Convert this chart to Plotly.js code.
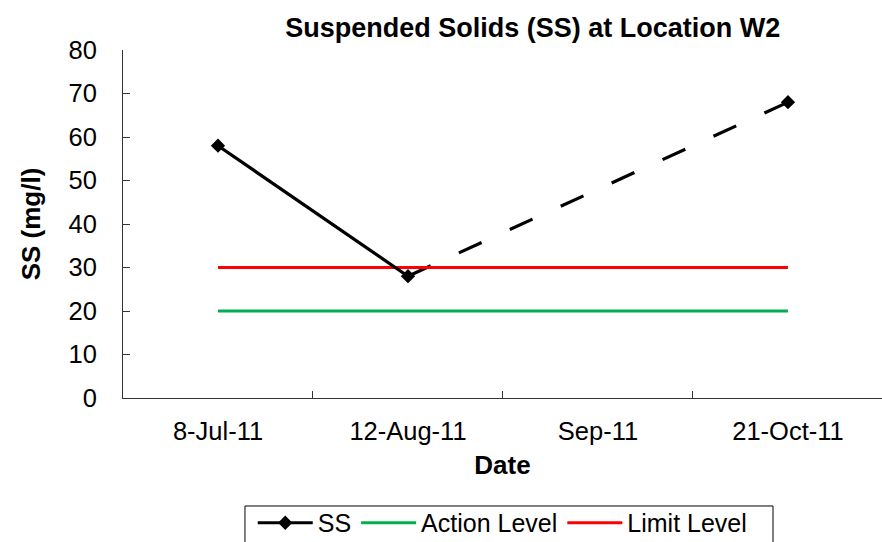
<!DOCTYPE html>
<html>
<head>
<meta charset="utf-8">
<script src="https://cdn.plot.ly/plotly-3.0.1.min.js"></script>
<style>html,body{margin:0;padding:0;background:#fff;}#chart{width:882px;height:542px;}</style>
</head>
<body>
<div id="chart"></div>
<script>
const dates = ["8-Jul-11", "12-Aug-11", "Sep-11", "21-Oct-11"];
const ssValues = [58, 28, null, 68];
const actionLevel = [20, 20, 20, 20];
const limitLevel = [30, 30, 30, 30];

// dashed segments bridging missing values
const bridge = dates.map(() => null);
for (let i = 0; i < ssValues.length; i++) {
  if (ssValues[i] === null) {
    let a = i - 1; while (a >= 0 && ssValues[a] === null) a--;
    let b = i + 1; while (b < ssValues.length && ssValues[b] === null) b++;
    if (a >= 0 && b < ssValues.length) { bridge[a] = ssValues[a]; bridge[b] = ssValues[b]; }
  }
}

const font = "Arial, 'Liberation Sans', sans-serif";
const traces = [
  {x: dates, y: bridge, mode: "lines", connectgaps: true, showlegend: false,
   line: {color: "#000", width: 3.2, dash: "25px,31px"}, hoverinfo: "skip"},
  {x: dates, y: actionLevel, name: "Action Level", mode: "lines", legendrank: 2,
   line: {color: "#00b050", width: 3}},
  {x: dates, y: limitLevel, name: "Limit Level", mode: "lines", legendrank: 3,
   line: {color: "#ff0000", width: 3}},
  {x: dates, y: ssValues, name: "SS", mode: "lines+markers", connectgaps: false, legendrank: 1,
   line: {color: "#000", width: 3.2},
   marker: {symbol: "diamond", size: 11, color: "#000"}}
];

const layout = {
  width: 882, height: 542,
  margin: {l: 123, r: 0, t: 50, b: 144},
  paper_bgcolor: "#fff", plot_bgcolor: "#fff",
  font: {family: font, color: "#000", size: 25},
  title: {text: "<b>Suspended Solids (SS) at Location W2</b>", x: 0.604, xref: "container", xanchor: "center",
          y: 0.95, yref: "container", yanchor: "middle", font: {size: 27, family: font}},
  xaxis: {type: "category", range: [-0.5, 3.495], tickson: "boundaries",
          ticks: "inside", ticklen: 7, tickcolor: "#333", showline: true, linecolor: "#333", linewidth: 1,
          showgrid: false, zeroline: false, tickfont: {size: 25.5}, ticklabelstandoff: 10,
          title: {text: "<b>Date</b>", font: {size: 26}, standoff: 12}},
  yaxis: {range: [0, 80], dtick: 10, ticks: "inside", ticklen: 7, tickcolor: "#333",
          showline: true, linecolor: "#333", linewidth: 1, showgrid: false, zeroline: false,
          tickfont: {size: 25.5}, ticklabelstandoff: 20,
          title: {text: "<b>SS (mg/l)</b>", font: {size: 26}, standoff: 20}},
  legend: {orientation: "h", x: 0.570, xref: "container", xanchor: "center",
           y: 0.0775, yref: "container", yanchor: "top",
           bgcolor: "rgba(0,0,0,0)", borderwidth: 0, font: {size: 25}, traceorder: "normal",
           itemwidth: 55},
  shapes: [{type: "rect", xref: "paper", yref: "paper", x0: 0.1607, x1: 0.8564, y0: -0.4224, y1: -0.3103,
            line: {color: "#000", width: 1}, fillcolor: "rgba(0,0,0,0)", layer: "below"}],
  showlegend: true
};
Plotly.newPlot("chart", traces, layout, {staticPlot: true});
</script>
</body>
</html>
